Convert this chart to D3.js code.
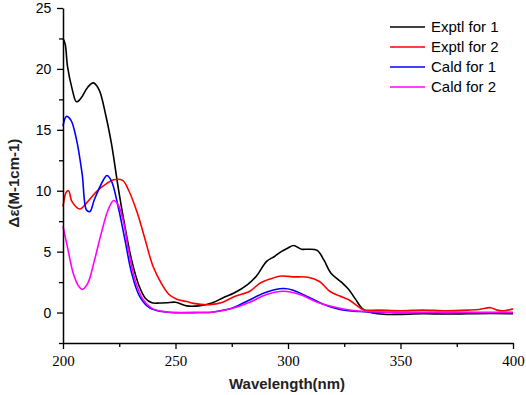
<!DOCTYPE html>
<html><head><meta charset="utf-8">
<script src="https://cdn.jsdelivr.net/npm/d3@7"></script>
<style>body{margin:0;background:#fff}svg{display:block}</style>
</head><body>
<script>
const xTicks = [200,250,300,350,400];
const yTicks = [0,5,10,15,20,25];
const seriesNames = ["Exptl for 1","Exptl for 2","Cald for 1","Cald for 2"];
const seriesColors = ["#000000","#ff0000","#0000ff","#ff00ff"];

const blackX = [200,201,202,204,206,208,211,213.5,216,219,221.5,224.5,227,230.5,234,236.5,239.5,243,246,250,255,261,266.5,271,276,282,286,290.5,294,297,300,302.5,306,309,313,316,319,324,327,330,333.5,340,350,360,370,380,390,400];
const blackY = [22.5,22.0,20.2,18.4,17.3,17.6,18.5,18.85,18.3,16.2,13.9,10.3,7.6,4.3,2.1,1.2,0.8,0.78,0.8,0.85,0.55,0.57,0.8,1.2,1.6,2.3,3.0,4.2,4.6,5.0,5.3,5.5,5.2,5.2,5.1,4.3,3.25,2.45,1.9,1.1,0.25,-0.1,-0.15,-0.1,-0.12,-0.1,-0.08,-0.1];

const redX = [200,201.5,202.5,204,207.5,210.5,215,219.5,222.5,226.5,229,233,236.5,240,244,247,250.5,255,258,265,271,276,283,287.5,292,297,302,309,314,318.5,323,327,332,334,340,350,360,370,380,385,390,393,396,400];
const redY = [8.7,9.9,10.0,9.1,8.5,9.0,9.95,10.6,10.9,10.85,10.1,8.2,6.0,3.8,2.3,1.5,1.1,0.9,0.75,0.65,0.85,1.3,1.75,2.4,2.75,3.0,2.93,2.9,2.55,1.75,1.35,1.05,0.38,0.2,0.2,0.15,0.2,0.15,0.2,0.25,0.4,0.2,0.15,0.3];

const blueX = [200,201.5,203.5,206,208.5,210.5,212,214,218,219.5,221.5,224.5,227.5,230.5,234,238.5,244,248,260,266,270,275,282,290,298,302,309,316,323,332,340,360,380,400];
const blueY = [15.3,16.1,15.8,14.2,11.4,8.4,8.3,9.3,10.9,11.25,10.8,8.7,6.0,3.25,1.35,0.38,0.08,0,0,0.03,0.15,0.35,0.95,1.65,1.97,1.85,1.28,0.66,0.25,0.08,0.02,0,0,0];

const magentaX = [200,202.5,204.5,207,208.5,211,214,217,220,222.5,224.5,227,229,232,235.5,240,246,250,260,266,270,275,283,290.5,298,305,313,320,328,335,345,360,380,400];
const magentaY = [7.1,4.9,3.25,2.15,1.9,2.4,4.3,6.5,8.4,9.2,8.85,7.35,5.2,2.7,1.1,0.3,0.05,0,0,0.02,0.12,0.33,0.85,1.48,1.75,1.5,0.85,0.47,0.19,0.08,0.02,0,0,0];

const series = [
  {name: seriesNames[0], color: seriesColors[0], xs: blackX, ys: blackY},
  {name: seriesNames[1], color: seriesColors[1], xs: redX, ys: redY},
  {name: seriesNames[2], color: seriesColors[2], xs: blueX, ys: blueY},
  {name: seriesNames[3], color: seriesColors[3], xs: magentaX, ys: magentaY}
];

const W = 526, H = 395;
const svg = d3.select("body").append("svg").attr("width", W).attr("height", H);
const x = d3.scaleLinear().domain([200,400]).range([63,513]);
const y = d3.scaleLinear().domain([-2.5,25]).range([343,8]);

// curves
const line = d3.line().x(d => x(d[0])).y(d => y(d[1])).curve(d3.curveCatmullRom.alpha(0.5));
series.forEach(s => {
  const pts = s.xs.map((v,i) => [v, s.ys[i]]);
  svg.append("path").attr("d", line(pts)).attr("fill","none")
    .attr("stroke", s.color).attr("stroke-width", 1.6).attr("stroke-linejoin","round");
});

// axes
const xAxis = svg.append("g").attr("transform", `translate(0,${y(-2.5)})`)
  .call(d3.axisBottom(x).tickValues(xTicks).tickSize(6).tickSizeOuter(0).tickFormat(d3.format("d")));
svg.append("g").attr("transform", `translate(0,${y(-2.5)})`)
  .call(d3.axisBottom(x).tickValues([225,275,325,375]).tickSize(4).tickSizeOuter(0).tickFormat(""))
  .select(".domain").remove();
xAxis.selectAll("text").attr("font-family","Liberation Serif, serif").attr("font-size",15).attr("dy","0.9em");

const yAxis = svg.append("g").attr("transform", `translate(${x(200)},0)`)
  .call(d3.axisLeft(y).tickValues(yTicks).tickSize(6).tickSizeOuter(0).tickFormat(d3.format("d")));
svg.append("g").attr("transform", `translate(${x(200)},0)`)
  .call(d3.axisLeft(y).tickValues([-2.5,2.5,7.5,12.5,17.5,22.5]).tickSize(4).tickSizeOuter(0).tickFormat(""))
  .select(".domain").remove();
yAxis.selectAll("text").attr("font-family","Liberation Sans, Arial, sans-serif").attr("font-size",14).attr("dx","-0.2em");
svg.selectAll(".domain").attr("stroke","#000").attr("stroke-width",1.5);
svg.selectAll(".tick line").attr("stroke","#000").attr("stroke-width",1.3);

// axis titles
svg.append("text").attr("x", 287).attr("y", 389).attr("text-anchor","middle")
  .attr("font-family","Liberation Sans, Arial, sans-serif").attr("font-size",15).attr("font-weight","bold")
  .attr("fill","#222").text("Wavelength(nm)");
svg.append("text").attr("transform","translate(19,183) rotate(-90)").attr("text-anchor","middle")
  .attr("font-family","Liberation Sans, Arial, sans-serif").attr("font-size",15).attr("font-weight","bold")
  .attr("fill","#222").text("Δε(M-1cm-1)");

// legend
const leg = svg.append("g");
series.forEach((s,i) => {
  const yy = 27 + i*20;
  leg.append("line").attr("x1",390).attr("x2",425).attr("y1",yy).attr("y2",yy)
    .attr("stroke", s.color).attr("stroke-width",1.6);
  leg.append("text").attr("x",431).attr("y",yy).attr("dy","0.35em")
    .attr("font-family","Liberation Sans, Arial, sans-serif").attr("font-size",15)
    .attr("fill","#000").text(s.name);
});
</script>
</body></html>
